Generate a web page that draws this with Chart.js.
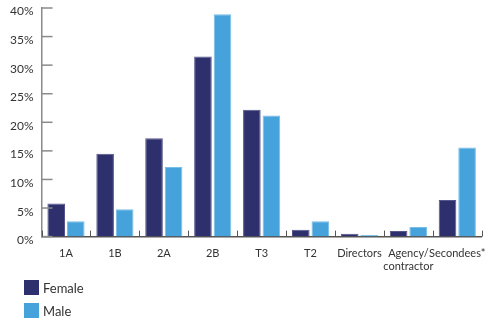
<!DOCTYPE html>
<html>
<head>
<meta charset="utf-8">
<script src="https://cdn.jsdelivr.net/npm/chart.js@4"></script>
<style>
  body { margin: 0; background: #fff; font-family: Lato, sans-serif; }
  #wrap { position: relative; width: 496px; height: 283px; }
  #legenda { position: absolute; left: 24px; top: 280px; }
  .voce { display: flex; align-items: center; height: 15px; margin-bottom: 8px; font-size: 13px; color: #333; }
  .quadrato { width: 15px; height: 15px; margin-right: 4px; }
</style>
</head>
<body>
<div id="wrap"><canvas id="myChart"></canvas></div>
<div id="legenda"></div>
<script>
// categorie e percentuali per genere
var categorie = ["1A", "1B", "2A", "2B", "T3", "T2", "Directors", ["Agency/", "contractor"], "Secondees*"];
var femmine = [5.8, 14.5, 17.2, 31.5, 22.2, 1.2, 0.5, 1.0, 6.4];
var maschi = [2.7, 4.8, 12.2, 38.9, 21.2, 2.7, 0.3, 1.7, 15.6];
var tickAsseY = [0, 5, 10, 15, 20, 25, 30, 35, 40];

var coloreFemmine = "#2E2F6D";
var coloreMaschi = "#45A2DA";

// tacche rivolte verso l'interno su entrambi gli assi
var tacchePlugin = {
  id: "tacche",
  afterDraw: function(chart) {
    var ctx = chart.ctx;
    var area = chart.chartArea;
    var sy = chart.scales.y;
    ctx.save();
    ctx.strokeStyle = "#8a8a8a";
    ctx.lineWidth = 1.5;
    for (var i = 0; i < sy.ticks.length; i++) {
      var py = sy.getPixelForTick(i);
      ctx.beginPath();
      ctx.moveTo(area.left, py);
      ctx.lineTo(area.left + 11, py);
      ctx.stroke();
    }
    ctx.strokeStyle = "#555";
    ctx.lineWidth = 1;
    var passo = (area.right - area.left) / categorie.length;
    for (var j = 0; j <= categorie.length; j++) {
      var px = Math.round(area.left + j * passo) + 0.5;
      ctx.beginPath();
      ctx.moveTo(px, area.bottom);
      ctx.lineTo(px, area.bottom - 6);
      ctx.stroke();
    }
    ctx.restore();
  }
};

var grafico = new Chart(document.getElementById("myChart"), {
  type: "bar",
  data: {
    labels: categorie,
    datasets: [{
      label: "Female",
      data: femmine,
      backgroundColor: coloreFemmine,
      borderColor: "#55568a",
      borderWidth: 1
    }, {
      label: "Male",
      data: maschi,
      backgroundColor: coloreMaschi,
      borderColor: "#78bde6",
      borderWidth: 1
    }]
  },
  options: {
    responsive: true,
    maintainAspectRatio: false,
    animation: false,
    layout: { padding: { left: 2, right: 9, top: 8, bottom: 0 } },
    datasets: { bar: { categoryPercentage: 0.8, barPercentage: 0.9 } },
    plugins: {
      legend: { display: false },
      tooltip: { enabled: false }
    },
    scales: {
      x: {
        grid: { display: false, drawTicks: false },
        border: { color: "#555", width: 1.5 },
        ticks: {
          color: "#333",
          padding: 10,
          maxRotation: 0,
          autoSkip: false,
          font: { family: "Lato", size: 11 }
        }
      },
      y: {
        min: 0,
        max: 40,
        afterBuildTicks: function(scala) {
          scala.ticks = tickAsseY.map(function(v) { return { value: v }; });
        },
        // il margine alto lo decide solo layout.padding
        afterFit: function(scala) {
          scala.paddingTop = 0;
        },
        grid: { display: false, drawTicks: false },
        border: { color: "#8a8a8a", width: 1.5 },
        ticks: {
          color: "#333",
          padding: 8,
          // riga vuota sopra: l'etichetta scende di mezza interlinea sotto la tacca
          font: { family: "Lato", size: 12, lineHeight: 0.6 },
          callback: function(v) { return ["", v + "%"]; }
        }
      }
    }
  },
  plugins: [tacchePlugin]
});

// legenda verticale sotto il grafico
var legenda = document.getElementById("legenda");
grafico.data.datasets.forEach(function(ds) {
  var voce = document.createElement("div");
  voce.className = "voce";
  var q = document.createElement("div");
  q.className = "quadrato";
  q.style.background = ds.backgroundColor;
  voce.appendChild(q);
  voce.appendChild(document.createTextNode(ds.label));
  legenda.appendChild(voce);
});
</script>
</body>
</html>
